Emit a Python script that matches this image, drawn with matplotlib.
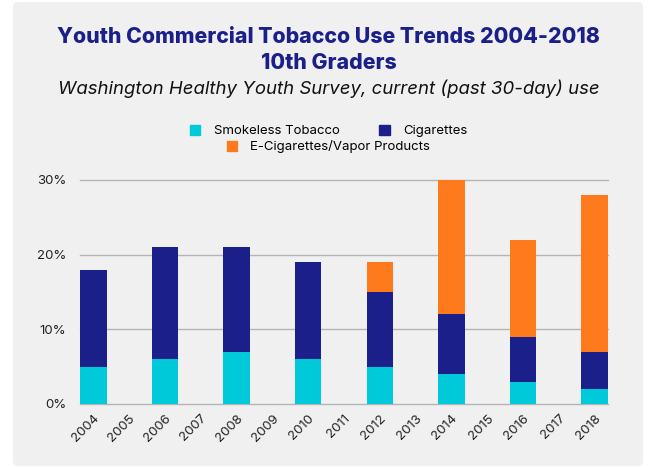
import matplotlib.pyplot as plt
from matplotlib.patches import FancyBboxPatch, Patch

# data (percent, past 30-day use, 10th graders)
years = list(range(2004, 2019))
bar_years = [2004, 2006, 2008, 2010, 2012, 2014, 2016, 2018]
smokeless = [5, 6, 7, 6, 5, 4, 3, 2]
cigarettes = [13, 15, 14, 13, 10, 8, 6, 5]
ecig = [0, 0, 0, 0, 4, 18, 13, 21]
yticks = [0, 10, 20, 30]
ytick_labels = ["0%", "10%", "20%", "30%"]

cyan = "#00c9d9"
navy = "#1b1f8a"
orange = "#ff7a1c"
grid = "#b4b4b4"
bg = "#f0f0f0"

plt.rcParams['font.family'] = ['Inter', 'DejaVu Sans']

fig = plt.figure(figsize=(6.57, 4.67), dpi=100)
fig.patch.set_facecolor("white")
panel = FancyBboxPatch((13 / 657, 1 / 467), 630 / 657, 464 / 467,
                       boxstyle="round,pad=0,rounding_size=0.01",
                       transform=fig.transFigure, facecolor=bg,
                       edgecolor="none", zorder=-10)
fig.patches.append(panel)

ax = fig.add_axes([80 / 657, 63 / 467, 528 / 657, 224 / 467])
ax.set_facecolor("none")
ax.set_zorder(5)

w = 0.74
b1 = ax.bar(bar_years, smokeless, width=w, color=cyan, zorder=3)
bottom2 = smokeless
b2 = ax.bar(bar_years, cigarettes, width=w, bottom=bottom2, color=navy, zorder=3)
bottom3 = [s + c for s, c in zip(smokeless, cigarettes)]
b3 = ax.bar(bar_years, ecig, width=w, bottom=bottom3, color=orange, zorder=3)

ax.set_xlim(2004 - w / 2, 2018 + w / 2)
ax.set_ylim(0, 30)
for v in yticks:
    ax.axhline(v, color=grid, lw=1, zorder=1, clip_on=False)
ax.set_yticks(yticks)
ax.set_yticklabels(ytick_labels)
ax.set_xticks(years)
ax.set_xticklabels([str(y) for y in years], rotation=45, ha="right",
                   rotation_mode="anchor")
ax.tick_params(axis="y", length=0, pad=10, labelsize=9.5, colors="#222222")
ax.tick_params(axis="x", length=0, pad=6, labelsize=9.5, colors="#222222")
for s in ax.spines.values():
    s.set_visible(False)

# titles
fig.text(0.5, 1 - 37 / 467, "Youth Commercial Tobacco Use Trends 2004-2018",
         ha="center", va="center", fontsize=15.3, fontweight="heavy", color=navy)
fig.text(0.5, 1 - 63 / 467, "10th Graders",
         ha="center", va="center", fontsize=15.3, fontweight="heavy", color=navy)
fig.text(0.5, 1 - 89 / 467,
         "Washington Healthy Youth Survey, current (past 30-day) use",
         ha="center", va="center", fontsize=13.4, style="italic",
         color="#111111")

# legend (two rows, centered)
fig.legend([Patch(color=cyan), Patch(color=navy)],
           ["Smokeless Tobacco", "Cigarettes"],
           loc="center", bbox_to_anchor=(0.5, 1 - 131 / 467), ncol=2,
           frameon=False, fontsize=9.5, handlelength=0.8,
           handleheight=0.8, columnspacing=3, handletextpad=1)
fig.legend([Patch(color=orange)], ["E-Cigarettes/Vapor Products"],
           loc="center", bbox_to_anchor=(0.5, 1 - 147 / 467), ncol=1,
           frameon=False, fontsize=9.5, handlelength=0.8, handleheight=0.8,
           handletextpad=1)

fig.savefig("out.png", dpi=100)
